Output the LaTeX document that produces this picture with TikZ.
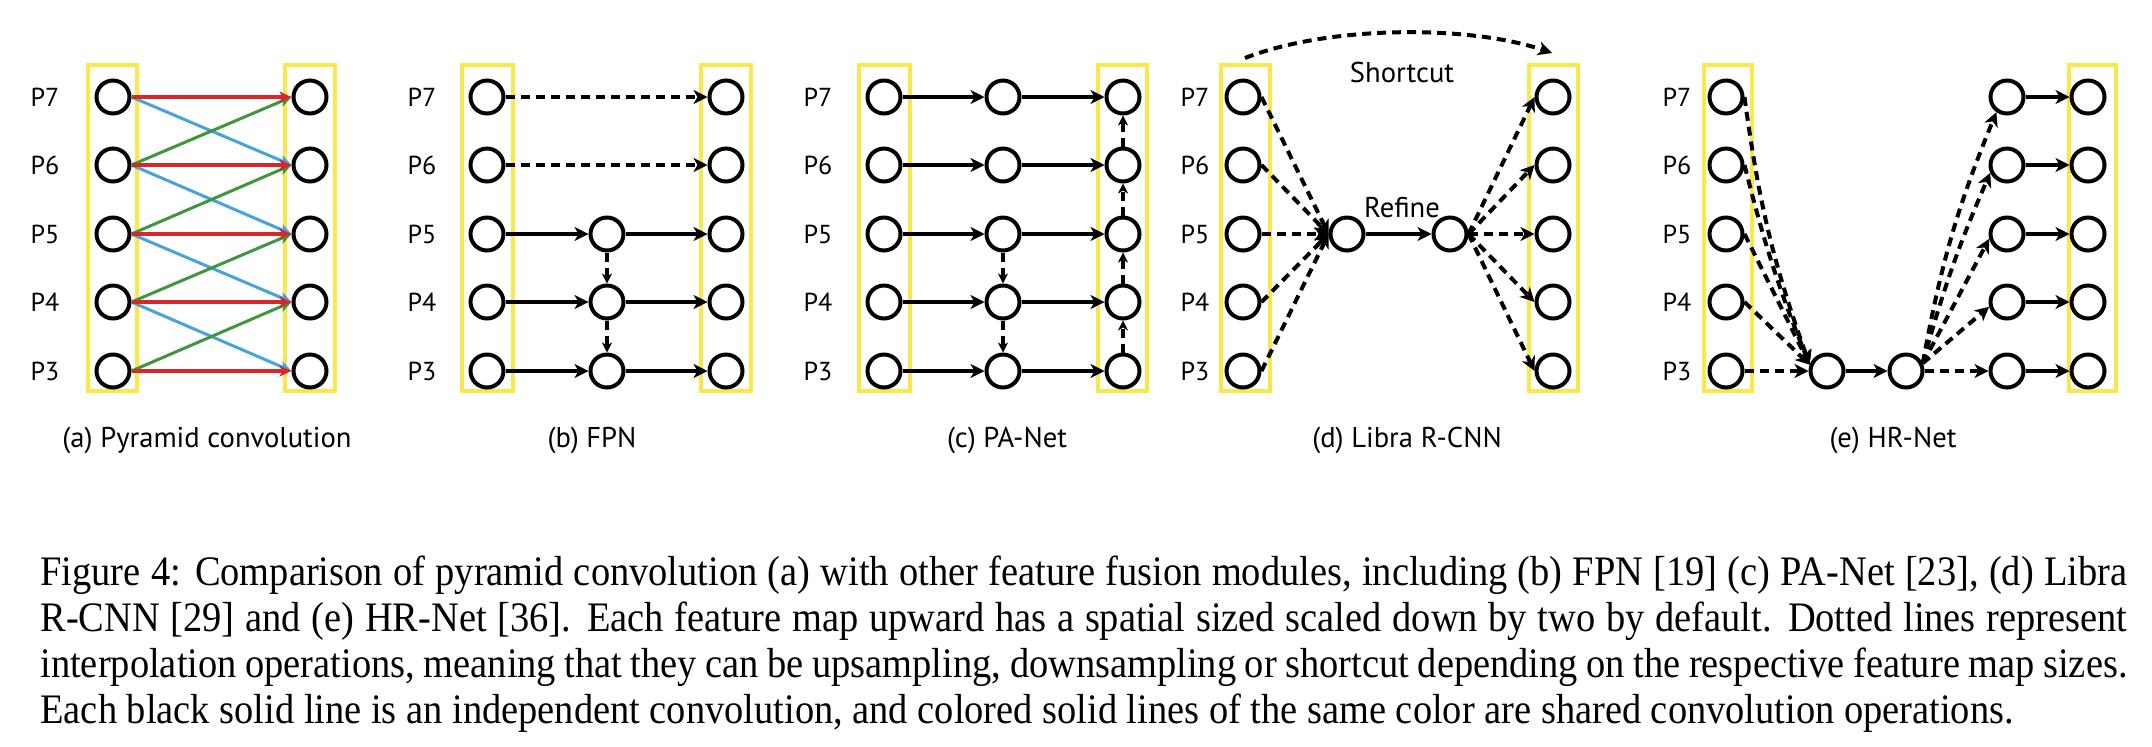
\documentclass[tikz,border=0pt]{standalone}
\usepackage{fontspec}
\newfontfamily\lblfont{PT Sans}
\newfontfamily\capfont[FakeStretch=0.915]{Liberation Serif}
\usetikzlibrary{arrows.meta,positioning}
\definecolor{boxyellow}{RGB}{250,232,75}
\definecolor{convred}{RGB}{214,40,40}
\definecolor{convblue}{RGB}{72,162,222}
\definecolor{convgreen}{RGB}{62,150,62}

\begin{document}
\begin{tikzpicture}[%
    x=0.5pt, y=-0.5pt,            % one unit is one pixel of the sketch, y grows downwards
    >={Stealth[length=7pt,width=7pt,inset=2pt]},
    ]
% -------------------------------------------------
% Styles
\tikzset{
  fmap/.style={draw, circle, line width=2pt, minimum size=16.5pt, inner sep=0pt},
  lvl/.style={font=\lblfont\fontsize{13}{15}\selectfont},
  sub/.style={font=\lblfont\fontsize{14.3}{16}\selectfont},
  stage/.style={draw=boxyellow, line width=2pt},
  % connector styles
  conv/.style={->, line width=2pt},
  interp/.style={->, line width=2pt, dash pattern=on 4.5pt off 3pt},
  vinterp/.style={interp, >={Stealth[length=5pt,width=5pt,inset=1.5pt]}},
  shr/.style={->, >={Stealth[length=6pt,width=5.5pt,inset=1.5pt]}},
  shred/.style={shr, draw=convred, line width=1.9pt},
  shblue/.style={shr, draw=convblue, line width=1.5pt},
  shgreen/.style={shr, draw=convgreen, line width=1.5pt},
}
\useasboundingbox (0,0) rectangle (2152,746);

% -------------------------------------------------
% Stage boxes
\foreach \xa/\xb in {88/137, 285/335, 462/513, 701/751, 859/910,
                     1098/1147, 1221/1270, 1529/1578, 1704/1752, 2069/2116}
  \draw[stage] (\xa,65) rectangle (\xb,391);

% -------------------------------------------------
% (a) Pyramid convolution
\foreach \n/\y in {7/97,6/165,5/234,4/302,3/371}{
  \node[lvl] (alab\n) at (45,\y) {P\n};
  \node[fmap] (al\n) at (113,\y) {};
  \node[fmap] (ar\n) at (310,\y) {};
}
\foreach \n/\m in {7/6,6/5,5/4,4/3}{
  \draw[shblue] (al\n.east) -- (ar\m.west);
  \draw[shgreen] (al\m.east) -- (ar\n.west);
}
\foreach \n in {7,6,5,4,3}
  \draw[shred] (al\n.east) -- (ar\n.west);
\node[sub] (acap) at (207,440) {(a) Pyramid convolution};

% -------------------------------------------------
% (b) FPN
\foreach \n/\y in {7/97,6/165,5/234,4/302,3/371}{
  \node[lvl] (blab\n) at (422,\y) {P\n};
  \node[fmap] (bl\n) at (487,\y) {};
  \node[fmap] (br\n) at (726,\y) {};
}
\foreach \n/\y in {5/234,4/302,3/371}{
  \node[fmap] (bm\n) at (607,\y) {};
  \draw[conv] (bl\n) -- (bm\n);
  \draw[conv] (bm\n) -- (br\n);
}
\draw[interp] (bl7) -- (br7);
\draw[interp] (bl6) -- (br6);
\draw[vinterp] (bm5) -- (bm4);
\draw[vinterp] (bm4) -- (bm3);
\node[sub] (bcap) at (592,440) {(b) FPN};

% -------------------------------------------------
% (c) PA-Net
\foreach \n/\y in {7/97,6/165,5/234,4/302,3/371}{
  \node[lvl] (clab\n) at (818,\y) {P\n};
  \node[fmap] (cl\n) at (884,\y) {};
  \node[fmap] (cm\n) at (1003,\y) {};
  \node[fmap] (cr\n) at (1123,\y) {};
  \draw[conv] (cl\n) -- (cm\n);
  \draw[conv] (cm\n) -- (cr\n);
}
\draw[vinterp] (cm5) -- (cm4);
\draw[vinterp] (cm4) -- (cm3);
\foreach \n/\m in {3/4,4/5,5/6,6/7}
  \draw[vinterp] (cr\n) -- (cr\m);
\node[sub] (ccap) at (1007,440) {(c) PA-Net};

% -------------------------------------------------
% (d) Libra R-CNN
\node[fmap] (dmix) at (1347,234) {};
\node[fmap] (dref) at (1450,234) {};
\foreach \n/\y in {7/97,6/165,5/234,4/302,3/371}{
  \node[lvl] (dlab\n) at (1195,\y) {P\n};
  \node[fmap] (dl\n) at (1243,\y) {};
  \node[fmap] (dr\n) at (1553,\y) {};
  \draw[interp] (dl\n.east) -- (dmix.west);
  \draw[interp] (dref.east) -- (dr\n.west);
}
\draw[conv] (dmix) -- (dref);
\node[sub] (drefine) at (1402,208) {Refine};
\node[sub] (dshort) at (1402,72) {Shortcut};
\coordinate (dsc1) at (1245,58);
\coordinate (dsc2) at (1552,53);
\draw[interp] (dsc1) .. controls (1330,25) and (1470,25) .. (dsc2);
\node[sub] (dcap) at (1407,440) {(d) Libra R-CNN};

% -------------------------------------------------
% (e) HR-Net
\node[fmap] (edown) at (1827,371) {};
\node[fmap] (econv) at (1906,371) {};
\foreach \n/\y in {7/97,6/165,5/234,4/302,3/371}{
  \node[lvl] (elab\n) at (1677,\y) {P\n};
  \node[fmap] (el\n) at (1726,\y) {};
  \node[fmap] (em\n) at (2007,\y) {};
  \node[fmap] (er\n) at (2088,\y) {};
  \draw[conv] (em\n) -- (er\n);
}
\draw[interp] (el7.east) to[bend right=6] (edown.160);
\draw[interp] (el6.east) to[bend right=4] (edown.160);
\draw[interp] (el5.east) -- (edown.160);
\draw[interp] (el4.east) -- (edown.160);
\draw[interp] (el3) -- (edown);
\draw[conv] (edown) -- (econv);
\draw[interp] (econv.25) to[bend left=6] (em7.235);
\draw[interp] (econv.25) to[bend left=4] (em6.205);
\draw[interp] (econv.25) -- (em5.195);
\draw[interp] (econv.25) -- (em4.195);
\draw[interp] (econv) -- (em3);
\node[sub] (ecap) at (1893,440) {(e) HR-Net};

% -------------------------------------------------
% Figure caption
\node[anchor=north west, inner sep=0pt, text width=1043.5pt, align=justify,
      font=\capfont\fontsize{21}{23}\selectfont] (figcap) at (40,556)
  {Figure 4: Comparison of pyramid convolution (a) with other feature fusion
   modules, including (b) FPN [19] (c) PA-Net [23], (d) Libra\linebreak
   R-CNN [29] and (e) HR-Net [36]. Each feature map upward has a spatial sized
   scaled down by two by default. Dotted lines represent\linebreak
   interpolation operations, meaning that they can be upsampling, downsampling
   or shortcut depending on the respective feature map sizes.\linebreak
   Each black solid line is an independent convolution, and colored solid lines
   of the same color are shared convolution operations.};
% -------------------------------------------------
\end{tikzpicture}
\end{document}
